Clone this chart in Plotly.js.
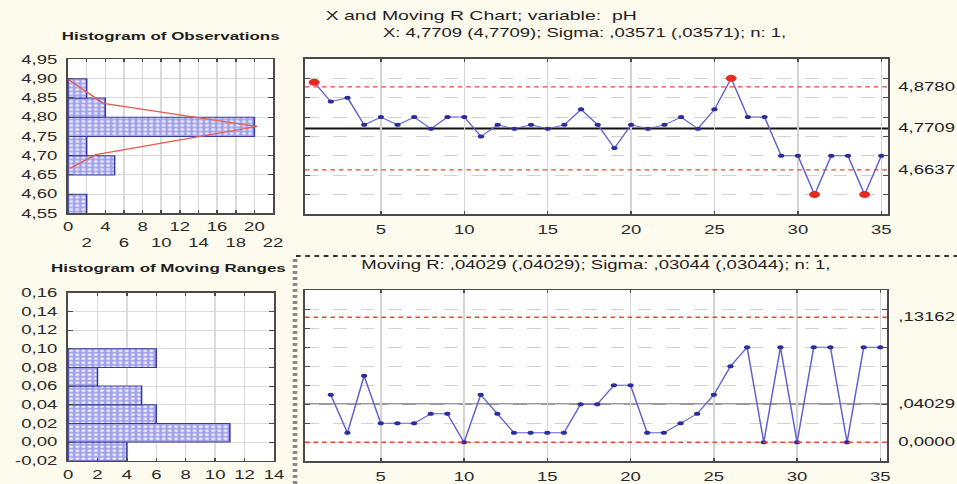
<!DOCTYPE html>
<html><head><meta charset="utf-8">
<script src="https://cdn.plot.ly/plotly-3.0.1.min.js"></script>
<style>
html,body{margin:0;padding:0;background:#fdfaee;overflow:hidden;width:957px;height:484px;}
#chart{width:620px;height:484px;transform:scaleX(1.5435);transform-origin:0 0;}
</style></head><body><div id="chart"></div>
<script>
// ---- data ----
const sampleNo = [1,2,3,4,5,6,7,8,9,10,11,12,13,14,15,16,17,18,19,20,21,22,23,24,25,26,27,28,29,30,31,32,33,34,35];
const pH = [4.89,4.84,4.85,4.78,4.80,4.78,4.80,4.77,4.80,4.80,4.75,4.78,4.77,4.78,4.77,4.78,4.82,4.78,4.72,4.78,
            4.77,4.78,4.80,4.77,4.82,4.90,4.80,4.80,4.70,4.70,4.60,4.70,4.70,4.60,4.70];
const mrSampleNo = [2,3,4,5,6,7,8,9,10,11,12,13,14,15,16,17,18,19,20,21,22,23,24,25,26,27,28,29,30,31,32,33,34,35];
const movingR = [0.05,0.01,0.07,0.02,0.02,0.02,0.03,0.03,0.00,0.05,0.03,0.01,0.01,0.01,0.01,0.04,0.04,0.06,0.06,
                 0.01,0.01,0.02,0.03,0.05,0.08,0.10,0.00,0.10,0.00,0.10,0.10,0.00,0.10,0.10];
const xCenter = 4.7709, xUCL = 4.8780, xLCL = 4.6637;
const mrCenter = 0.04029, mrUCL = 0.13162, mrLCL = 0.0;
const xLimitLabels = ['4,8780','4,7709','4,6637'];
const mrLimitLabels = [',13162',',04029','0,0000'];

const obsBinCenters = [4.575,4.625,4.675,4.725,4.775,4.825,4.875];
const obsBinCounts  = [2,0,5,2,20,4,2];
const normCurveCount = [0.1,3.8,20.3,3.0,0.2];
const normCurvePH    = [4.897,4.836,4.776,4.703,4.667];
const mrBinCenters = [-0.01,0.01,0.03,0.05,0.07,0.09];
const mrBinCounts  = [4,11,6,5,2,6];

const obsTickVals = [4.55,4.60,4.65,4.70,4.75,4.80,4.85,4.90,4.95];
const obsTickText = ['4,55','4,60','4,65','4,70','4,75','4,80','4,85','4,90','4,95'];
const obsCountTickVals = [0,2,4,6,8,10,12,14,16,18,20,22];
const obsCountTickText = ['0','\u00a0<br>2','4','\u00a0<br>6','8','\u00a0<br>10','12','\u00a0<br>14','16','\u00a0<br>18','20','\u00a0<br>22'];
const mrTickVals = [-0.02,0,0.02,0.04,0.06,0.08,0.10,0.12,0.14,0.16];
const mrTickText = ['-0,02','0,00','0,02','0,04','0,06','0,08','0,10','0,12','0,14','0,16'];
const mrCountTickVals = [0,2,4,6,8,10,12,14];
const sampleTickVals = [5,10,15,20,25,30,35];
const xGridVals = [4.60,4.65,4.70,4.75,4.80,4.85,4.90];
const mrGridVals = [0,0.02,0.04,0.06,0.08,0.10,0.12,0.14];

// ---- styles ----
const tickFont = {family:'Liberation Sans, Arial, sans-serif', size:12, color:'#2a2a2a'};
const frame = {showline:true, mirror:'ticks', linecolor:'#4a4a4a', linewidth:1.6, ticks:'inside', ticklen:3,
               tickcolor:'#4a4a4a', zeroline:false, tickfont:tickFont, fixedrange:true, tickangle:0};
const barMarker = {color:'#a6a6ec', line:{color:'#3a3a9e', width:1},
                   pattern:{shape:'.', fgcolor:'#eeeeff', bgcolor:'#a2a2ea', size:4, solidity:0.35}};

const outIdx = pH.map((v,i)=> (v>xUCL || v<xLCL) ? i : -1).filter(i=>i>=0);

const traces = [
  {type:'bar', orientation:'h', y:obsBinCenters, x:obsBinCounts, width:0.05, marker:barMarker,
   xaxis:'x', yaxis:'y', hoverinfo:'skip'},
  {type:'scatter', mode:'lines', x:normCurveCount, y:normCurvePH, line:{color:'#e06050', width:1.3},
   xaxis:'x', yaxis:'y', hoverinfo:'skip'},
  {type:'scatter', mode:'lines+markers', x:sampleNo, y:pH, line:{color:'#6262d2', width:1},
   marker:{color:'#2c2c9c', size:4}, xaxis:'x2', yaxis:'y2', hoverinfo:'skip'},
  {type:'scatter', mode:'markers', x:outIdx.map(i=>sampleNo[i]), y:outIdx.map(i=>pH[i]),
   marker:{color:'#e42a1e', size:7}, xaxis:'x2', yaxis:'y2', hoverinfo:'skip'},
  {type:'bar', orientation:'h', y:mrBinCenters, x:mrBinCounts, width:0.02, marker:barMarker,
   xaxis:'x3', yaxis:'y3', hoverinfo:'skip'},
  {type:'scatter', mode:'lines+markers', x:mrSampleNo, y:movingR, line:{color:'#6262d2', width:1},
   marker:{color:'#2c2c9c', size:4}, xaxis:'x4', yaxis:'y4', hoverinfo:'skip'}
];

function hline(axX, axY, val, color, width, dash, layer){
  return {type:'line', xref:axX+' domain', yref:axY, x0:0, x1:1, y0:val, y1:val, layer:layer,
          line:{color:color, width:width, dash:dash}};
}
const shapes = [
  hline('x2','y2',xUCL,'#e04a3a',1.4,'3px,2.5px','above'),
  hline('x2','y2',xLCL,'#e04a3a',1.4,'3px,2.5px','above'),
  hline('x2','y2',xCenter,'#111111',2,'solid','below'),
  hline('x4','y4',mrUCL,'#e04a3a',1.4,'3px,2.5px','above'),
  hline('x4','y4',mrLCL,'#e04a3a',1.4,'3px,2.5px','above'),
  hline('x4','y4',mrCenter,'#9a9a9a',2,'solid','below'),
  {type:'line', xref:'paper', yref:'paper', x0:0.3093, x1:1, y0:0.4711, y1:0.4711,
   line:{color:'#333', width:2.2, dash:'dot'}},
  {type:'line', xref:'paper', yref:'paper', x0:0.3083, x1:0.3083, y0:0, y1:0.4711,
   line:{color:'#8a8a8a', width:3, dash:'dot'}}
];

const annFont = {family:'Liberation Sans, Arial, sans-serif', size:12, color:'#1e1e1e'};
const annotations = [
  {text:'X and Moving R Chart; variable:  pH', xref:'paper', yref:'paper', x:0.5026, y:0.9669,
   xanchor:'center', yanchor:'middle', showarrow:false, font:Object.assign({},annFont,{size:12.6})},
  {text:'X: 4,7709 (4,7709); Sigma: ,03571 (,03571); n: 1,', xref:'paper', yref:'paper', x:0.3971, y:0.9318,
   xanchor:'left', yanchor:'middle', showarrow:false, font:annFont},
  {text:'<b>Histogram of Observations</b>', xref:'paper', yref:'paper', x:0.1787, y:0.9256,
   xanchor:'center', yanchor:'middle', showarrow:false, font:Object.assign({},annFont,{size:11})},
  {text:'<b>Histogram of Moving Ranges</b>', xref:'paper', yref:'paper', x:0.1761, y:0.4463,
   xanchor:'center', yanchor:'middle', showarrow:false, font:Object.assign({},annFont,{size:11})},
  {text:'Moving R: ,04029 (,04029); Sigma: ,03044 (,03044); n: 1,', xref:'paper', yref:'paper', x:0.3741, y:0.4525,
   xanchor:'left', yanchor:'middle', showarrow:false, font:annFont}
];
[xUCL,xCenter,xLCL].forEach((v,i)=>annotations.push({text:xLimitLabels[i], xref:'paper', yref:'y2', x:0.9353, y:v,
   xanchor:'left', yanchor:'middle', showarrow:false, font:annFont}));
[mrUCL,mrCenter,mrLCL].forEach((v,i)=>annotations.push({text:mrLimitLabels[i], xref:'paper', yref:'y4', x:0.9353, y:v,
   xanchor:'left', yanchor:'middle', showarrow:false, font:annFont}));

const layout = {
  width:620, height:484, margin:{l:0,r:0,t:0,b:0}, autosize:false,
  paper_bgcolor:'#fdfaee', plot_bgcolor:'#ffffff', showlegend:false, bargap:0,
  xaxis: Object.assign({}, frame, {domain:[0.0711,0.2853], anchor:'y', range:[0,22],
          tickmode:'array', tickvals:obsCountTickVals, ticktext:obsCountTickText, gridcolor:'#dadada', ticklabelstandoff:2}),
  yaxis: Object.assign({}, frame, {domain:[0.5589,0.8771], anchor:'x', range:[4.55,4.95],
          tickmode:'array', tickvals:obsTickVals, ticktext:obsTickText, gridcolor:'#dadada', ticklabelstandoff:3}),
  xaxis2: Object.assign({}, frame, {domain:[0.3187,0.9279], anchor:'y2', range:[0.45,35.4],
          tickmode:'array', tickvals:sampleTickVals, gridcolor:'#d4d4d4', ticklabelstandoff:4}),
  yaxis2: Object.assign({}, frame, {domain:[0.5579,0.8781], anchor:'x2', range:[4.55,4.95],
          tickmode:'array', tickvals:xGridVals, showticklabels:false, gridcolor:'#d2d2d2', griddash:'dash'}),
  xaxis3: Object.assign({}, frame, {domain:[0.0711,0.2863], anchor:'y3', range:[0,14],
          tickmode:'array', tickvals:mrCountTickVals, gridcolor:'#dadada', ticklabelstandoff:2}),
  yaxis3: Object.assign({}, frame, {domain:[0.0481,0.3952], anchor:'x3', range:[-0.02,0.16],
          tickmode:'array', tickvals:mrTickVals, ticktext:mrTickText, gridcolor:'#dadada', ticklabelstandoff:3}),
  xaxis4: Object.assign({}, frame, {domain:[0.3187,0.9269], anchor:'y4', range:[0.45,35.4],
          tickmode:'array', tickvals:sampleTickVals, gridcolor:'#d4d4d4', ticklabelstandoff:4}),
  yaxis4: Object.assign({}, frame, {domain:[0.0469,0.4002], anchor:'x4', range:[-0.02,0.16],
          tickmode:'array', tickvals:mrGridVals, showticklabels:false, gridcolor:'#d2d2d2', griddash:'dash'}),
  shapes:shapes, annotations:annotations
};
Plotly.newPlot('chart', traces, layout, {staticPlot:true, displayModeBar:false});
</script></body></html>
